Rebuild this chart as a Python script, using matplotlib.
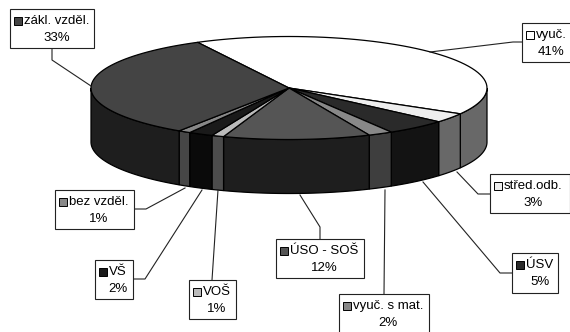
import numpy as np
import matplotlib
matplotlib.use("Agg")
import matplotlib.pyplot as plt
from matplotlib.patches import Polygon, Rectangle

plt.rcParams['font.family'] = ['Liberation Sans', 'DejaVu Sans']

categories = ['vyuč.', 'střed.odb.', 'ÚSV', 'vyuč. s mat.', 'ÚSO - SOŠ', 'VOŠ', 'VŠ', 'bez vzděl.', 'zákl. vzděl.']
values = [41, 3, 5, 2, 12, 1, 2, 1, 33]

top_colors = ['#ffffff', '#eeeeee', '#2a2a2a', '#888888', '#555555', '#bbbbbb', '#1a1a1a', '#888888', '#444444']
side_colors = ['#686868', '#686868', '#131313', '#3e3e3e', '#1e1e1e', '#4c4c4c', '#0a0a0a', '#464646', '#1e1e1e']

# pie geometry, in pixels
cx, cy, rx, ry, depth = 289, 88, 198, 51.5, 54
start = 117.5

# box x0, x1, y0, y1 and the leader line for each label
boxes = [(522, 572, 23, 62), (490, 569.5, 174, 213), (512, 558, 253, 293), (339, 429, 294, 336), (276, 364, 239, 278),
         (189, 236, 280, 319), (95, 133, 260, 299), (55, 134, 190, 229), (10, 94, 9, 48)]
leaders = [[(522, 42), (513, 42), (430, 52)],
           [(490, 194), (478, 194), (457, 172)],
           [(512, 273), (500, 273), (423, 182)],
           [(384, 294), (385, 190)],
           [(320, 239), (320, 227), (300, 195)],
           [(212, 280), (218, 190)],
           [(133, 279), (145, 279), (202, 190)],
           [(134, 209), (146, 209), (185, 188)],
           [(52, 48), (52, 60), (91, 86)]]


def rim(a0, a1, dy=0):
    t = np.radians(np.linspace(a0, a1, 60))
    return np.column_stack([cx + rx * np.cos(t), cy + dy - ry * np.sin(t)])


fig = plt.figure(figsize=(5.7, 3.32), dpi=100)
ax = fig.add_axes([0, 0, 1, 1])
ax.set_xlim(0, 570)
ax.set_ylim(332, 0)
ax.axis('off')

ends = start - np.cumsum(values) * 3.6
begins = np.r_[start, ends[:-1]]

# side wall, only the part facing the viewer
for a0, a1, col in zip(begins, ends, side_colors):
    for lo, hi in [(0, -180), (-360, -540)]:
        s0, s1 = min(a0, lo), max(a1, hi)
        if s0 > s1:
            pts = np.vstack([rim(s0, s1), rim(s1, s0, depth)])
            ax.add_patch(Polygon(pts, fc=col, ec='black', lw=0.9, zorder=2))

# top face
for a0, a1, col in zip(begins, ends, top_colors):
    pts = np.vstack([[(cx, cy)], rim(a0, a1)])
    ax.add_patch(Polygon(pts, fc=col, ec='black', lw=0.9, zorder=3))

for line in leaders:
    xs, ys = zip(*line)
    ax.plot(xs, ys, color='#222222', lw=0.8, zorder=4)

fig.canvas.draw()
renderer = fig.canvas.get_renderer()

for cat, val, box, col in zip(categories, values, boxes, top_colors):
    x0, x1, y0, y1 = box
    ax.add_patch(Rectangle((x0, y0), x1 - x0, y1 - y0, fc='white', ec='#222222', lw=0.8, zorder=5))
    t = ax.text(x0 + 14, y0 + 12, cat, fontsize=9.5, va='center', ha='left', color='black', zorder=6)
    ax.add_patch(Rectangle((x0 + 3.5, y0 + 7.5), 8, 8, fc=col, ec='black', lw=0.7, zorder=6))
    # percent is centred over the name, not over the box
    xm = x0 + 14 + t.get_window_extent(renderer).width / 2
    ax.text(xm, y0 + 29, f'{val}%', fontsize=9.5, va='center', ha='center', color='black', zorder=6)

fig.savefig('out.png', dpi=100, facecolor='white')
